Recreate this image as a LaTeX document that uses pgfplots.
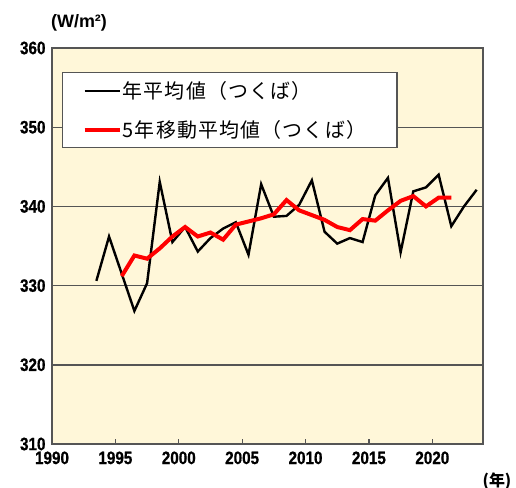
\documentclass[border=0pt]{standalone}
\usepackage{fontspec}
\usepackage{pgfplots}
\pgfplotsset{compat=1.18}
\setmainfont{Liberation Sans}
\newfontfamily\jp[LetterSpace=6]{Noto Sans CJK JP}
\newfontfamily\jpb{Noto Sans CJK JP}
\newfontfamily\tickfont[FakeStretch=0.85,FakeBold=0.8]{Liberation Sans}
\definecolor{bgy}{RGB}{255,247,217}
\definecolor{frame}{RGB}{85,85,85}
\begin{document}
\begin{tikzpicture}[x=1bp,y=1bp]
\path[use as bounding box] (0,0) rectangle (516,-488);
\begin{axis}[
  at={(52bp,-444bp)}, anchor=south west,
  scale only axis, width=431bp, height=396bp,
  xmin=1990, xmax=2024, ymin=310, ymax=360,
  xtick={1990,1995,...,2020}, ytick={310,320,...,360},
  xtick pos=bottom, ytick pos=left, tick align=inside,
  major tick length=5bp,
  ytick style={draw=none},
  xtick style={frame, line width=1.2bp},
  axis line style={frame, line width=1.6bp},
  ymajorgrids, grid style={frame, line width=1.4bp},
  axis background/.style={fill=bgy},
  /pgf/number format/assume math mode=true,
  /pgf/number format/1000 sep={},
  tick label style={font=\tickfont\bfseries\fontsize{18}{18}\selectfont, text=black},
  xticklabel style={yshift=-4bp},
  yticklabel style={xshift=-3bp},
  legend style={at={(0.0232,0.9394)}, anchor=north west, draw=frame, line width=1.4bp,
    fill=white, inner xsep=20bp, inner ysep=8bp, row sep=18bp,
    nodes={inner sep=1bp}, font=\jp\fontsize{20}{20}\selectfont},
  legend cell align=left,
  legend image code/.code={\draw[#1] (0bp,0bp) -- (35bp,0bp);},
]
\addplot[black, line width=2.4bp, mark=none] coordinates {
(1993.5,330.6) (1994.5,336.2) (1995.5,331.5) (1996.5,326.8) (1997.5,330.3)
(1998.5,343.1) (1999.5,335.5) (2000.5,337.4) (2001.5,334.3) (2002.5,336.0)
(2003.5,337.2) (2004.5,338.0) (2005.5,333.9) (2006.5,342.8) (2007.5,338.7)
(2008.5,338.8) (2009.5,340.2) (2010.5,343.3) (2011.5,336.8) (2012.5,335.3)
(2013.5,336.0) (2014.5,335.5) (2015.5,341.4) (2016.5,343.6) (2017.5,334.2)
(2018.5,341.9) (2019.5,342.4) (2020.5,344.0) (2021.5,337.5) (2022.5,340.0)
(2023.5,342.1)};
\addlegendentry{年平均値（つくば）}
\addplot[red, line width=4bp, mark=none] coordinates {
(1995.5,331.2) (1996.5,333.8) (1997.5,333.4) (1998.5,334.7) (1999.5,336.2)
(2000.5,337.4) (2001.5,336.2) (2002.5,336.7) (2003.5,335.8) (2004.5,337.7)
(2005.5,338.1) (2006.5,338.5) (2007.5,339.0) (2008.5,340.8) (2009.5,339.5)
(2010.5,338.9) (2011.5,338.3) (2012.5,337.4) (2013.5,337.0) (2014.5,338.4)
(2015.5,338.2) (2016.5,339.5) (2017.5,340.7) (2018.5,341.3) (2019.5,340.0)
(2020.5,341.1) (2021.5,341.1)};
\addlegendentry{5年移動平均値（つくば）\hspace*{10bp}}
\end{axis}
\node[font=\bfseries\fontsize{18}{18}\selectfont] at (79,-23) {(W/m²)};
\node[font=\jpb\bfseries\fontsize{16}{16}\selectfont] at (497,-481) {(年)};
\end{tikzpicture}
\end{document}
